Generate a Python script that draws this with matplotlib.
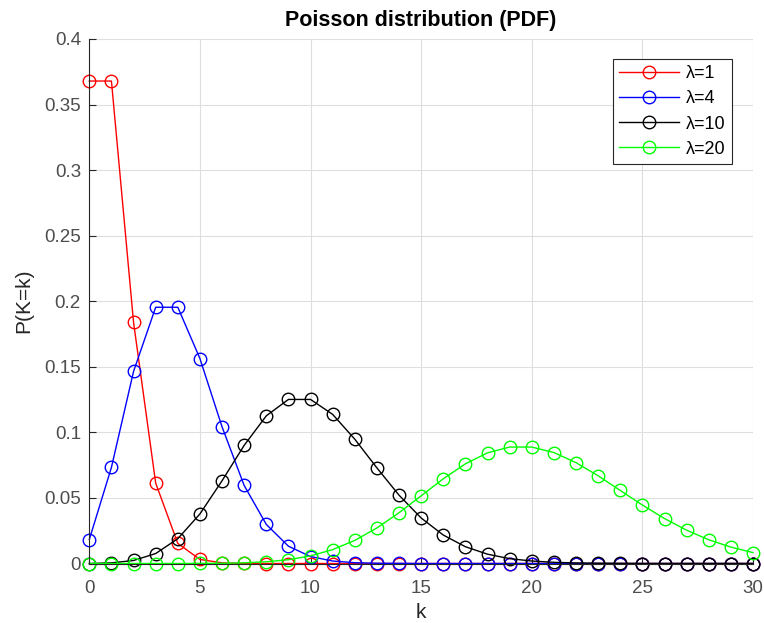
import matplotlib
matplotlib.use("Agg")
import matplotlib.pyplot as plt

plt.rcParams['font.family'] = ['Liberation Sans', 'DejaVu Sans']

k = list(range(31))
p1 = [0.3679, 0.3679, 0.1839, 0.0613, 0.0153, 0.0031, 0.0005, 0.0001, 0.0000, 0.0000,
      0.0, 0.0, 0.0, 0.0, 0.0, 0.0, 0.0, 0.0, 0.0, 0.0, 0.0, 0.0, 0.0, 0.0, 0.0, 0.0,
      0.0, 0.0, 0.0, 0.0, 0.0]
p4 = [0.0183, 0.0733, 0.1465, 0.1954, 0.1954, 0.1563, 0.1042, 0.0595, 0.0298, 0.0132,
      0.0053, 0.0019, 0.0006, 0.0002, 0.0001, 0.0000, 0.0, 0.0, 0.0, 0.0, 0.0, 0.0, 0.0,
      0.0, 0.0, 0.0, 0.0, 0.0, 0.0, 0.0, 0.0]
p10 = [0.0000, 0.0005, 0.0023, 0.0076, 0.0189, 0.0378, 0.0631, 0.0901, 0.1126, 0.1251,
       0.1251, 0.1137, 0.0948, 0.0729, 0.0521, 0.0347, 0.0217, 0.0128, 0.0071, 0.0037,
       0.0019, 0.0009, 0.0004, 0.0002, 0.0001, 0.0000, 0.0, 0.0, 0.0, 0.0, 0.0]
p20 = [0.0, 0.0, 0.0, 0.0, 0.0, 0.0001, 0.0002, 0.0005, 0.0013, 0.0029,
       0.0058, 0.0106, 0.0176, 0.0271, 0.0387, 0.0516, 0.0646, 0.0760, 0.0844, 0.0888,
       0.0888, 0.0846, 0.0769, 0.0669, 0.0557, 0.0446, 0.0343, 0.0254, 0.0181, 0.0125,
       0.0083]

series = [(p1, '#ff0000', 'λ=1'), (p4, '#0000ff', 'λ=4'), (p10, '#000000', 'λ=10'), (p20, '#00ff00', 'λ=20')]

fig = plt.figure(figsize=(7.64, 6.23), dpi=100)
ax = fig.add_axes([0.1169, 0.0955, 0.8687, 0.842])
for vals, c, lab in series:
    ax.plot(k, vals, '-o', color=c, lw=1.0, markersize=9, markerfacecolor='none',
            markeredgewidth=1.0, label=lab, clip_on=False)

ax.set_xlim(0, 30)
ax.set_ylim(0, 0.4)
ax.set_xticks([0, 5, 10, 15, 20, 25, 30])
ax.set_yticks([0, 0.05, 0.1, 0.15, 0.2, 0.25, 0.3, 0.35, 0.4])
ax.set_yticklabels(['0', '0.05', '0.1', '0.15', '0.2', '0.25', '0.3', '0.35', '0.4'])
ax.grid(True, color='#dedede', lw=0.8)
ax.set_axisbelow(True)
ax.tick_params(direction='in', length=5, colors='#262626', labelcolor='#4d4d4d',
               labelsize=13.5)
ax.tick_params(axis='x', pad=12)
ax.tick_params(axis='y', pad=6)
ax.spines['top'].set_visible(False)
ax.spines['right'].set_visible(False)
for s in ('left', 'bottom'):
    ax.spines[s].set_color('#262626')
    ax.spines[s].set_linewidth(0.8)
ax.set_xlabel('k', fontsize=15, color='#262626', labelpad=4)
ax.set_ylabel('P(K=k)', fontsize=15, color='#262626', labelpad=8)
ax.set_title('Poisson distribution (PDF)', fontsize=15.5, fontweight='bold', color='#000000', pad=9)
leg = ax.legend(loc='upper left', bbox_to_anchor=((613 - 89.3) / 663.7, (563.5 - 59) / 524.5),
                borderaxespad=0, fontsize=13, fancybox=False, framealpha=1,
                edgecolor='#262626', handlelength=3.3, handletextpad=0.4,
                borderpad=0.35, labelspacing=0.45)
leg.get_frame().set_linewidth(0.8)
fig.savefig('out.png', dpi=100)
